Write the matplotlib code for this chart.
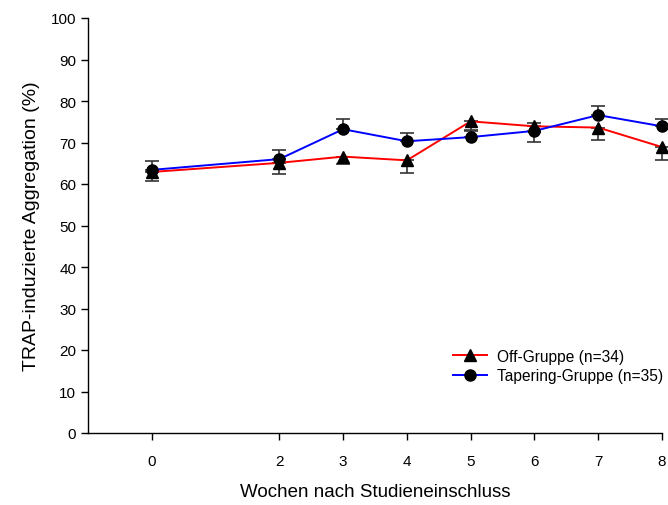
import matplotlib
matplotlib.use("Agg")
import matplotlib.pyplot as plt
from matplotlib.lines import Line2D

plt.rcParams['font.family'] = ['Liberation Sans', 'DejaVu Sans']

weeks = [0, 2, 3, 4, 5, 6, 7, 8]
off_mean = [62.9, 65.1, 66.6, 65.7, 75.1, 73.9, 73.6, 68.9]
off_err_low = [2.2, 2.8, 1.7, 3.0, 2.4, 3.7, 3.1, 3.0]
tap_mean = [63.4, 66.0, 73.2, 70.3, 71.3, 72.8, 76.6, 73.9]
tap_err_up = [2.2, 2.3, 2.4, 2.0, 1.8, 2.0, 2.1, 1.8]
xticks = [0, 2, 3, 4, 5, 6, 7, 8]
yticks = [0, 10, 20, 30, 40, 50, 60, 70, 80, 90, 100]

fig = plt.figure(figsize=(6.68, 5.06), dpi=100)
ax = fig.add_axes([88/668, 72/506, (662-88)/668, (434-19)/506])

# error bars
ax.errorbar(weeks, off_mean, yerr=[off_err_low, [0]*len(weeks)], fmt='none',
            ecolor='#333333', elinewidth=1.2, capsize=5, capthick=1.2, clip_on=False, zorder=2)
ax.errorbar(weeks, tap_mean, yerr=[[0]*len(weeks), tap_err_up], fmt='none',
            ecolor='#333333', elinewidth=1.2, capsize=5, capthick=1.2, clip_on=False, zorder=2)

ax.plot(weeks, off_mean, color='#ff0000', lw=1.4, zorder=3, clip_on=False)
ax.plot(weeks, tap_mean, color='#0000ff', lw=1.4, zorder=3, clip_on=False)
ax.plot(weeks, off_mean, ls='none', marker='^', ms=8, color='black', zorder=4, clip_on=False)
ax.plot(weeks, tap_mean, ls='none', marker='o', ms=8, color='black', zorder=4, clip_on=False)

ax.set_xlim(-1, 8)
ax.set_ylim(0, 100)
ax.set_xticks(xticks)
ax.set_yticks(yticks)
ax.spines['top'].set_visible(False)
ax.spines['right'].set_visible(False)
for s in ['left', 'bottom']:
    ax.spines[s].set_linewidth(1.0)
ax.tick_params(axis='both', direction='out', length=5, width=1, labelsize=11)
ax.tick_params(axis='x', pad=10)
ax.set_xlabel('Wochen nach Studieneinschluss', fontsize=13.5, labelpad=11)
ax.set_ylabel('TRAP-induzierte Aggregation (%)', fontsize=14, labelpad=8)

h1 = Line2D([], [], color='#ff0000', lw=1.4, marker='^', ms=8, mfc='black', mec='black')
h2 = Line2D([], [], color='#0000ff', lw=1.4, marker='o', ms=8, mfc='black', mec='black')
ax.legend([h1, h2], ['Off-Gruppe (n=34)', 'Tapering-Gruppe (n=35)'], frameon=False,
          fontsize=11.2, handlelength=2.2, loc='lower right',
          bbox_to_anchor=(1.012, 0.105), borderaxespad=0, labelspacing=0.3, handletextpad=0.6)

fig.savefig('out.png', dpi=100)
